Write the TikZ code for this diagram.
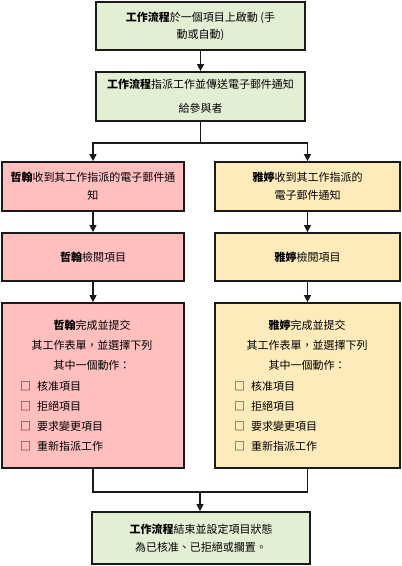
\documentclass[tikz,border=0pt]{standalone}
\usepackage{fontspec}
\setmainfont{Noto Sans CJK TC}
\usetikzlibrary{arrows.meta}
\definecolor{gfill}{HTML}{E3EFD5}
\definecolor{pfill}{HTML}{FFBFBF}
\definecolor{yfill}{HTML}{FDEBBB}
\definecolor{edge}{HTML}{1A1A1A}
\tikzset{
  box/.style={draw=edge, line width=1.8pt, rectangle, inner sep=0pt, align=center,
    font=\fontsize{11}{18}\selectfont},
  gbox/.style={box, fill=gfill},
  pbox/.style={box, fill=pfill},
  ybox/.style={box, fill=yfill},
  conn/.style={draw=edge, line width=1.4pt},
  arr/.style={conn, -{Triangle[width=7pt,length=7pt]}},
  txt/.style={inner sep=0pt, font=\fontsize{11}{20}\selectfont},
}
\begin{document}
\begin{tikzpicture}[x=1pt,y=-1pt]
\useasboundingbox (0,0) rectangle (402,566);
% top boxes
\node[gbox, minimum width=209pt, minimum height=48pt, font=\fontsize{11}{17}\selectfont] (b1) at (200.5,26)
  {\textbf{工作流程}於一個項目上啟動 (手\\動或自動)};
\node[gbox, minimum width=209pt, minimum height=49pt, font=\fontsize{11}{24}\selectfont] (b2) at (200.5,96.5)
  {\textbf{工作流程}指派工作並傳送電子郵件通知\\給參與者};
% left column
\node[pbox, minimum width=182pt, minimum height=49pt] (l1) at (93,186.5)
  {\textbf{哲翰}收到其工作指派的電子郵件通\\知};
\node[pbox, minimum width=182pt, minimum height=48pt] (l2) at (93,257)
  {\textbf{哲翰}檢閱項目};
\node[pbox, minimum width=182pt, minimum height=165pt] (l3) at (93,385.5) {};
% right column
\node[ybox, minimum width=185pt, minimum height=49pt] (r1) at (307.5,186.5)
  {\textbf{雅婷}收到其工作指派的\\電子郵件通知};
\node[ybox, minimum width=185pt, minimum height=48pt] (r2) at (307.5,257)
  {\textbf{雅婷}檢閱項目};
\node[ybox, minimum width=185pt, minimum height=165pt] (r3) at (307.5,385.5) {};
% box 3 texts
\node[txt, align=center, anchor=north] (l3h) at (92,320)
  {\textbf{哲翰}完成並提交\\其工作表單，並選擇下列\\其中一個動作：};
\node[txt, align=left, anchor=north west] (l3l) at (20,381)
  {□\hspace{6pt}核准項目\\□\hspace{6pt}拒絕項目\\□\hspace{6pt}要求變更項目\\□\hspace{6pt}重新指派工作};
\node[txt, align=center, anchor=north] (r3h) at (307,320)
  {\textbf{雅婷}完成並提交\\其工作表單，並選擇下列\\其中一個動作：};
\node[txt, align=left, anchor=north west] (r3l) at (234,381)
  {□\hspace{6pt}核准項目\\□\hspace{6pt}拒絕項目\\□\hspace{6pt}要求變更項目\\□\hspace{6pt}重新指派工作};
% final
\node[gbox, minimum width=218pt, minimum height=52pt] (fin) at (201,538)
  {\textbf{工作流程}結束並設定項目狀態\\為已核准、已拒絕或擱置。};
% connectors
\coordinate (split) at (200.5,143);
\coordinate (join) at (200,492);
\draw[arr] (b1) -- (b2);
\draw[conn] (b2.south) -- (split);
\draw[arr] (split) -| (l1.north);
\draw[arr] (split) -| (r1.north);
\draw[arr] (l1) -- (l2);
\draw[arr] (l2) -- (l3);
\draw[arr] (r1) -- (r2);
\draw[arr] (r2) -- (r3);
\draw[conn] (l3.south) |- (join);
\draw[conn] (r3.south) |- (join);
\draw[arr] (join) -- (fin.north -| join);
\end{tikzpicture}
\end{document}
